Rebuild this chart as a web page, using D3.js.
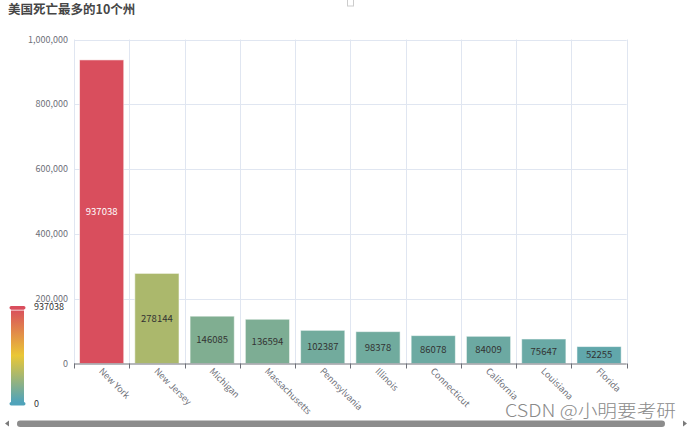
<!DOCTYPE html>
<html>
<head>
<meta charset="utf-8">
<script src="https://cdn.jsdelivr.net/npm/d3@7"></script>
<style>
  html, body { margin: 0; padding: 0; background: #fff; overflow: hidden; }
  svg { display: block; font-family: "Microsoft YaHei", "Noto Sans CJK SC", "Open Sans", sans-serif; }
</style>
</head>
<body>
<div id="chart"></div>
<script>
// data
const states = ['New York', 'New Jersey', 'Michigan', 'Massachusetts', 'Pennsylvania',
                'Illinois', 'Connecticut', 'California', 'Louisiana', 'Florida'];
const deaths = [937038, 278144, 146085, 136594, 102387, 98378, 86078, 84009, 75647, 52255];
const yTicks = [0, 200000, 400000, 600000, 800000, 1000000];
const mapColors = ['#50a3ba', '#eac736', '#d94e5d']; // visualMap 低 -> 高

const width = 692, height = 429;
const gLeft = 74, gRight = 626.7, gTop = 39.5, gBottom = 363.5;

const svg = d3.select('#chart').append('svg')
  .attr('width', width).attr('height', height);

// 标题
svg.append('text')
  .attr('x', 8).attr('y', 14)
  .attr('font-size', 12.5).attr('font-weight', 'bold')
  .attr('fill', '#464646')
  .text('美国死亡最多的10个州');

// 小方块(legend图标)
svg.append('rect')
  .attr('x', 347.5).attr('y', -1).attr('width', 6).attr('height', 7)
  .attr('fill', 'none').attr('stroke', '#ccc').attr('stroke-width', 1);

const x = d3.scaleBand().domain(states).range([gLeft, gRight]);
const y = d3.scaleLinear().domain([0, 1000000]).range([gBottom, gTop]);
const maxVal = d3.max(deaths);
const color = d3.scaleLinear()
  .domain([0, maxVal / 2, maxVal])
  .range(mapColors)
  .interpolate(d3.interpolateRgb);

// 网格
const grid = svg.append('g');
grid.selectAll('.hline')
  .data(yTicks.slice(1))
  .enter().append('line')
  .attr('x1', gLeft).attr('x2', gRight)
  .attr('y1', d => Math.round(y(d)) + 0.5).attr('y2', d => Math.round(y(d)) + 0.5)
  .attr('stroke', '#E0E6F1');
grid.selectAll('.vline')
  .data(states.concat(['end']))
  .enter().append('line')
  .attr('x1', (d, i) => Math.round(gLeft + i * x.step()) + 0.5)
  .attr('x2', (d, i) => Math.round(gLeft + i * x.step()) + 0.5)
  .attr('y1', gTop).attr('y2', gBottom)
  .attr('stroke', '#E0E6F1');

// y轴标签
svg.append('g')
  .selectAll('text')
  .data(yTicks)
  .enter().append('text')
  .attr('x', 68).attr('y', d => y(d))
  .attr('dy', '0.35em')
  .attr('text-anchor', 'end')
  .attr('font-size', 9)
  .attr('fill', '#6E7079')
  .text(d => d3.format(',')(d));

// 柱子
const barW = x.bandwidth() * 0.8;
svg.append('g')
  .selectAll('rect')
  .data(deaths)
  .enter().append('rect')
  .attr('x', (d, i) => x(states[i]) + (x.bandwidth() - barW) / 2)
  .attr('y', d => y(d))
  .attr('width', barW)
  .attr('height', d => y(0) - y(d))
  .attr('fill', d => color(d))
  .attr('stroke', 'rgba(255,255,255,0.55)')
  .attr('stroke-width', 1);

// 数值标签
svg.append('g')
  .selectAll('text')
  .data(deaths)
  .enter().append('text')
  .attr('x', (d, i) => x(states[i]) + x.bandwidth() / 2)
  .attr('y', d => (y(d) + y(0)) / 2)
  .attr('dy', '0.35em')
  .attr('text-anchor', 'middle')
  .attr('font-size', 9.5)
  .attr('fill', d => d === maxVal ? '#fff' : '#333')
  .text(d => d);

// x轴
svg.append('line')
  .attr('x1', gLeft).attr('x2', gRight)
  .attr('y1', gBottom + 0.5).attr('y2', gBottom + 0.5)
  .attr('stroke', '#6E7079');
svg.append('g')
  .selectAll('line')
  .data(states.concat(['end']))
  .enter().append('line')
  .attr('x1', (d, i) => Math.round(gLeft + i * x.step()) + 0.5)
  .attr('x2', (d, i) => Math.round(gLeft + i * x.step()) + 0.5)
  .attr('y1', gBottom).attr('y2', gBottom + 5)
  .attr('stroke', '#6E7079');
svg.append('g')
  .selectAll('text')
  .data(states)
  .enter().append('text')
  .attr('transform', d => `translate(${x(d) + x.bandwidth() / 2 - 1},${gBottom + 6}) rotate(45)`)
  .attr('dy', '0.35em')
  .attr('font-size', 9)
  .attr('fill', '#6E7079')
  .text(d => d);

// visualMap
const defs = svg.append('defs');
const grad = defs.append('linearGradient').attr('id', 'vm')
  .attr('x1', 0).attr('y1', 1).attr('x2', 0).attr('y2', 0);
mapColors.forEach((c, i) => {
  grad.append('stop').attr('offset', i / (mapColors.length - 1)).attr('stop-color', c);
});
const vmTop = 309, vmBottom = 402;
svg.append('rect')
  .attr('x', 11).attr('y', vmTop).attr('width', 13).attr('height', vmBottom - vmTop)
  .attr('fill', 'url(#vm)');
svg.append('line')
  .attr('x1', 11).attr('x2', 24).attr('y1', vmTop + 1).attr('y2', vmTop + 1)
  .attr('stroke', '#fff').attr('stroke-width', 1);
svg.append('rect')
  .attr('x', 9.5).attr('y', vmTop - 3).attr('width', 16).attr('height', 3.5).attr('rx', 1.7)
  .attr('fill', color(maxVal));
svg.append('rect')
  .attr('x', 9.5).attr('y', vmBottom).attr('width', 16).attr('height', 3.5).attr('rx', 1.7)
  .attr('fill', color(0));
svg.append('text')
  .attr('x', 34).attr('y', vmTop - 2).attr('dy', '0.35em')
  .attr('font-size', 9).attr('fill', '#333')
  .text(maxVal);
svg.append('text')
  .attr('x', 34).attr('y', vmBottom + 1.5).attr('dy', '0.35em')
  .attr('font-size', 9).attr('fill', '#333')
  .text(0);

// 水印
svg.append('text')
  .attr('x', 505).attr('y', 417)
  .attr('font-size', 17.5)
  .attr('font-weight', 300)
  .attr('font-family', '"Noto Sans CJK SC", "Liberation Sans", sans-serif')
  .attr('textLength', 171)
  .attr('lengthAdjust', 'spacingAndGlyphs')
  .attr('fill', '#8a8a8a')
  .attr('stroke', '#fff').attr('stroke-width', 2).attr('paint-order', 'stroke')
  .text('CSDN @小明要考研');

// 滚动条
svg.append('rect')
  .attr('x', 17).attr('y', 420.5).attr('width', 648).attr('height', 6.5).attr('rx', 3.2)
  .attr('fill', '#8c8c8c');
svg.append('path')
  .attr('d', 'M5,423.5 L9,420.5 L9,426.5 Z')
  .attr('fill', '#7a7a7a');
svg.append('path')
  .attr('d', 'M687,423.5 L683,420.5 L683,426.5 Z')
  .attr('fill', '#7a7a7a');
</script>
</body>
</html>
